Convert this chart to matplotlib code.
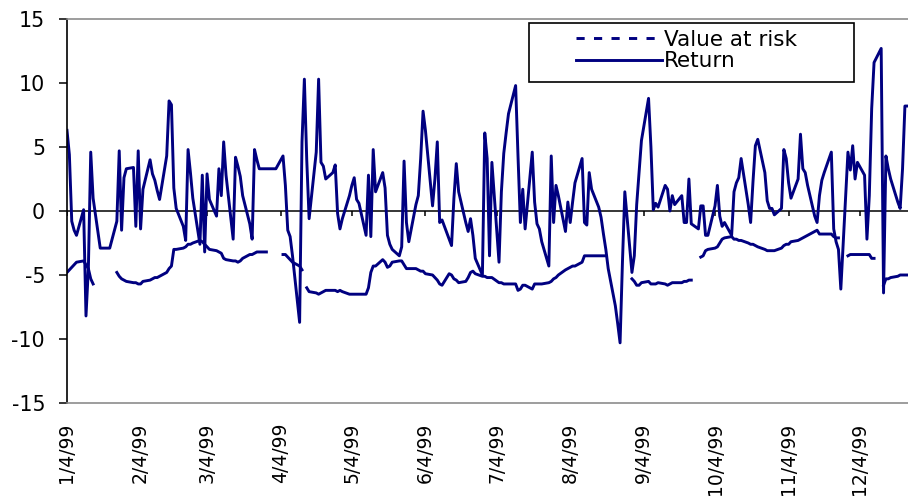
import matplotlib
matplotlib.use('Agg')
import matplotlib.pyplot as plt
from matplotlib.lines import Line2D
from matplotlib.patches import Rectangle
import numpy as np
import pandas as pd

plt.rcParams['font.family'] = ['DejaVu Sans']
plt.rcParams['axes.unicode_minus'] = False

# daily data, trading days from 4 Jan 1999 (one row = one week)
start_date = '1999-01-04'

ret = [
    6.3, 4.4, -0.8, -1.5, -1.9,
    0.1, -8.2, -4.5, 4.6, 1.0,
    -2.9, -2.9, -2.9, -2.9, -2.9,
    -0.8, 4.7, -1.5, 2.6, 3.3,
    3.4, -1.2, 4.7, -1.4, 1.7,
    4.0, 2.9, 2.4, 1.6, 0.9,
    4.3, 8.6, 8.3, 1.8, 0.2,
    -1.2, -2.3, 4.8, 3.0, 1.0,
    -2.6, 2.8, -3.2, 2.9, 0.9,
    -0.4, 3.3, 1.2, 5.4, 2.8,
    -2.2, 4.2, 3.5, 2.7, 1.2,
    -1.0, -2.2, 4.8, 4.0, 3.3,
    3.3, 3.3, 3.3, 3.3, 3.3,
    4.3, 2.0, -1.5, -2.0, -3.5,
    -8.7, 5.4, 10.3, 4.0, -0.6,
    4.6, 10.3, 3.8, 3.5, 2.5,
    3.0, 3.6, -0.2, -1.4, -0.6,
    1.2, 2.0, 2.6, 0.9, 0.6,
    -1.9, 2.8, -2.0, 4.8, 1.5,
    3.0, 1.8, -1.9, -2.6, -3.0,
    -3.5, -2.8, 3.9, -0.9, -2.4,
    0.5, 1.2, 4.1, 7.8, 6.3,
    0.4, 2.5, 5.4, -0.9, -0.7,
    -2.2, -2.7, 1.0, 3.7, 1.5,
    -0.9, -1.6, -0.6, -1.9, -3.7,
    -5.0, 6.1, 4.1, -3.5, 3.8,
    -4.0, 1.5, 4.5, 6.1, 7.6,
    9.8, 4.3, -0.9, 1.7, -1.4,
    4.6, 0.7, -1.0, -1.4, -2.4,
    -4.3, 4.3, -0.9, 2.0, 1.2,
    -1.6, 0.7, -0.9, 0.7, 2.2,
    4.1, -0.9, -1.1, 3.0, 1.7,
    0.3, -0.5, -1.8, -3.0, -4.5,
    -7.4, -8.8, -10.3, -4.0, 1.5,
    -4.8, -3.5, 0.5, 3.0, 5.5,
    8.8, 5.0, 0.1, 0.6, 0.3,
    2.0, 1.7, 0.0, 1.2, 0.5,
    1.2, -0.9, -0.9, 2.5, -1.0,
    -1.4, 0.4, 0.4, -1.9, -1.9,
    0.4, 2.0, -0.4, -1.2, -0.9,
    -1.9, 1.5, 2.2, 2.6, 4.1,
    0.5, -0.9, 2.3, 5.1, 5.6,
    3.0, 0.8, 0.2, 0.2, -0.3,
    0.2, 4.8, 4.1, 2.2, 1.0,
    2.5, 6.0, 3.3, 3.0, 2.0,
    -0.4, -0.9, 1.2, 2.4, 3.0,
    4.6, -1.4, -2.4, -3.0, -6.1,
    4.6, 3.2, 5.1, 2.5, 3.8,
    2.8, -2.2, 1.2, 8.0, 11.6,
    12.7, -6.4, 4.3, 3.3, 2.5,
    0.7, 0.2, 3.3, 8.2, 8.2,
]

# None = no value that day (gap in the line)
var = [
    -4.8, -4.6, -4.4, -4.2, -4.0,
    -3.9, -4.2, -4.5, -5.3, -5.7,
    None, None, None, None, None,
    -4.8, -5.1, -5.3, -5.4, -5.5,
    -5.6, -5.6, -5.7, -5.7, -5.5,
    -5.4, -5.3, -5.2, -5.2, -5.1,
    -4.8, -4.5, -4.3, -3.0, -3.0,
    -2.9, -2.8, -2.6, -2.6, -2.5,
    -2.3, -2.4, -2.6, -2.8, -3.0,
    -3.1, -3.2, -3.3, -3.7, -3.8,
    -3.9, -3.9, -4.0, -3.9, -3.7,
    -3.4, -3.4, -3.3, -3.2, -3.2,
    -3.2, None, None, None, None,
    -3.4, -3.4, -3.6, -3.8, -4.0,
    -4.3, -4.6, None, -6.0, -6.3,
    -6.4, -6.5, -6.4, -6.3, -6.2,
    -6.2, -6.2, -6.3, -6.2, -6.3,
    -6.5, -6.5, -6.5, -6.5, -6.5,
    -6.5, -6.0, -4.8, -4.3, -4.3,
    -3.8, -4.0, -4.4, -4.3, -4.0,
    -3.9, -3.9, -4.2, -4.5, -4.5,
    -4.5, -4.6, -4.7, -4.7, -4.9,
    -5.0, -5.2, -5.4, -5.7, -5.8,
    -4.9, -5.0, -5.3, -5.4, -5.6,
    -5.5, -5.2, -4.8, -4.7, -4.9,
    -5.1, -5.1, -5.2, -5.2, -5.2,
    -5.6, -5.6, -5.7, -5.7, -5.7,
    -5.7, -6.2, -6.1, -5.8, -5.8,
    -6.1, -5.7, -5.7, -5.7, -5.7,
    -5.6, -5.5, -5.3, -5.2, -5.0,
    -4.6, -4.5, -4.4, -4.3, -4.3,
    -4.0, -3.5, -3.5, -3.5, -3.5,
    -3.5, -3.5, -3.5, -3.5, None,
    None, None, None, None, None,
    -5.3, -5.5, -5.8, -5.8, -5.6,
    -5.5, -5.7, -5.7, -5.7, -5.6,
    -5.7, -5.8, -5.7, -5.6, -5.6,
    -5.6, -5.5, -5.5, -5.4, -5.4,
    None, -3.6, -3.5, -3.1, -3.0,
    -2.9, -2.8, -2.5, -2.2, -2.1,
    -2.0, -2.2, -2.2, -2.3, -2.3,
    -2.5, -2.6, -2.6, -2.7, -2.8,
    -3.0, -3.1, -3.1, -3.1, -3.1,
    -2.9, -2.7, -2.6, -2.6, -2.4,
    -2.3, -2.2, -2.1, -2.0, -1.9,
    -1.6, -1.5, -1.8, -1.8, -1.8,
    -1.8, -2.0, -2.1, -2.1, None,
    -3.5, -3.4, -3.4, -3.4, -3.4,
    -3.4, -3.4, -3.4, -3.7, -3.7,
    None, -5.8, -5.3, -5.3, -5.2,
    -5.1, -5.0, -5.0, -5.0, -5.0,
]

tick_dates = ['1999-01-04', '1999-02-04', '1999-03-04', '1999-04-04',
              '1999-05-04', '1999-06-04', '1999-07-04', '1999-08-04',
              '1999-09-04', '1999-10-04', '1999-11-04', '1999-12-04']
tick_labels = ['1/4/99', '2/4/99', '3/4/99', '4/4/99', '5/4/99', '6/4/99',
               '7/4/99', '8/4/99', '9/4/99', '10/4/99', '11/4/99', '12/4/99']
legend_labels = ['Value at risk', 'Return']

dates = pd.bdate_range(start_date, periods=len(ret))
ticks = pd.to_datetime(tick_dates)
var_arr = np.array([np.nan if v is None else v for v in var])

navy = '#000080'
grey = '#8c8c8c'

fig = plt.figure(figsize=(9.08, 5.0), dpi=100)
ax = fig.add_axes([67 / 908, 97 / 500, 841 / 908, 384 / 500])

# zero line with the month tick marks hanging from it
ax.axhline(0, color='black', lw=1.1, zorder=1)
ax.plot(ticks, np.zeros(len(ticks)), linestyle='none', marker=3,
        markersize=3.5, mew=1.1, color='black', zorder=1)

ax.plot(dates, var_arr, color=navy, lw=2.1)
ax.plot(dates, ret, color=navy, lw=2.1)

# axes limits (plot is cut off on the right, just before year end)
x0 = pd.Timestamp(start_date)
ax.set_xlim(x0, x0 + pd.Timedelta(days=354.3))
ax.set_ylim(-15, 15)

for side in ['top', 'bottom']:
    ax.spines[side].set_color(grey)
    ax.spines[side].set_linewidth(1.2)
ax.spines['left'].set_linewidth(1.2)
ax.spines['right'].set_visible(False)

ax.set_yticks(range(-15, 16, 5))
ax.tick_params(axis='y', length=5.8, width=1.1, pad=10, labelsize=14.8)

ax.set_xticks(ticks, tick_labels, rotation=90, fontsize=13.5)
ax.tick_params(axis='x', length=0, pad=14)

# legend with its own box
fig.add_artist(Rectangle((529 / 908, 1 - 82 / 500), 325 / 908, 59 / 500,
                         transform=fig.transFigure, facecolor='white',
                         edgecolor='black', lw=1.2))
handles = [Line2D([], [], color=navy, lw=2.1, linestyle=(0, (2.8, 3.2))),
           Line2D([], [], color=navy, lw=2.1)]
fig.legend(handles, legend_labels, loc='upper left',
           bbox_to_anchor=(576 / 908, 1 - 30 / 500), frameon=False,
           fontsize=15.5, handlelength=4.0, handletextpad=0.1,
           labelspacing=0.05, borderpad=0, borderaxespad=0)

fig.savefig('out.png', dpi=100)
